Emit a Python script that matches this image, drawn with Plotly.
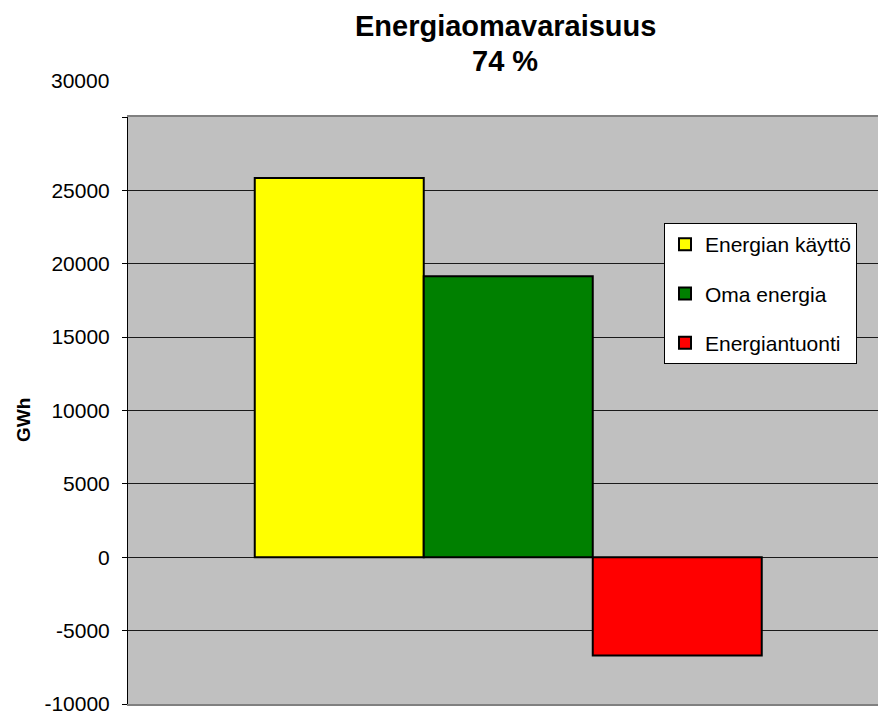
import plotly.graph_objects as go

series_names = ["Energian käyttö", "Oma energia", "Energiantuonti"]
series_values = [25850, 19150, -6700]
series_colors = ["#FFFF00", "#008000", "#FF0000"]
category = [""]
tick_vals = [-10000, -5000, 0, 5000, 10000, 15000, 20000, 25000, 30000]
tick_text = ["-10000", "-5000", "0", "5000", "10000", "15000", "20000", "25000", ""]
title_line1 = "Energiaomavaraisuus"
title_line2 = "74 %"
y_title = "GWh"

FONT = "Liberation Sans, Arial, sans-serif"

fig = go.Figure()
for i, (name, val, col) in enumerate(zip(series_names, series_values, series_colors)):
    fig.add_trace(go.Bar(
        x=category, y=[val], name=name, legendgroup=f"g{i}",
        marker=dict(color=col, line=dict(color="#000000", width=2)),
    ))

H = 713
top, bottom, left, right = 117, 704, 128, 878
ph = bottom - top
pw = right - left

def py(p):
    return (bottom - p) / ph

def px(p):
    return (p - left) / pw

fig.update_layout(
    width=878, height=713,
    margin=dict(l=left, r=0, t=top, b=H - bottom, pad=0, autoexpand=False),
    paper_bgcolor="white",
    plot_bgcolor="#C0C0C0",
    barmode="group", bargap=0.324, bargroupgap=0,
    font=dict(family=FONT, size=21, color="#000000"),
    showlegend=True,
    legend=dict(
        x=px(664), y=py(223), xanchor="left", yanchor="top",
        bgcolor="white", bordercolor="#000000", borderwidth=1,
        font=dict(size=21), tracegroupgap=19,
        traceorder="grouped",
    ),
    xaxis=dict(
        range=[-0.507, 0.493], showticklabels=False, ticks="",
        showgrid=False, zeroline=False, automargin=False,
        showline=True, linecolor="#808080", linewidth=2, mirror=True,
        fixedrange=True,
    ),
    yaxis=dict(
        range=[-10000, 30000], tickvals=tick_vals, ticktext=tick_text,
        ticks="outside", ticklen=5, tickcolor="#000000", tickwidth=1,
        showgrid=True, gridcolor="#1a1a1a", gridwidth=1, automargin=False,
        zeroline=False, showline=True, linecolor="#000000", linewidth=1,
        tickfont=dict(size=21), ticklabelstandoff=8,
        ticklabeloverflow="allow",
    ),
    annotations=[
        dict(text=f"<b>{title_line1}</b>", xref="paper", yref="paper",
             x=px(505), y=py(26), xanchor="center", yanchor="middle",
             showarrow=False, font=dict(size=29)),
        dict(text=f"<b>{title_line2}</b>", xref="paper", yref="paper",
             x=px(505), y=py(61), xanchor="center", yanchor="middle",
             showarrow=False, font=dict(size=29)),
        dict(text=f"<b>{y_title}</b>", xref="paper", yref="paper",
             x=px(23), y=py(420), xanchor="center", yanchor="middle",
             textangle=-90, showarrow=False, font=dict(size=19)),
        dict(text="30000", xref="paper", yref="paper",
             x=px(111), y=py(81), xanchor="right", yanchor="middle",
             showarrow=False, font=dict(size=21)),
    ],
)

fig.write_html(
    "out.html", config={"displayModeBar": False},
    post_script=("document.body.style.margin='0';"
                 "document.body.style.overflow='hidden';"
                 "document.documentElement.style.overflow='hidden';"),
)
